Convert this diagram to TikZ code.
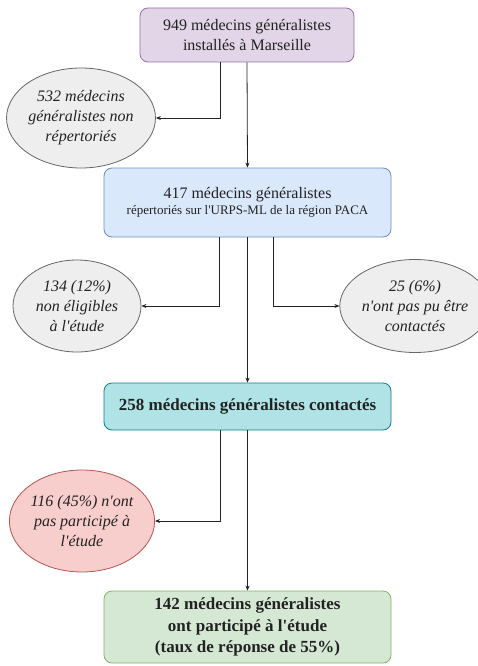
\documentclass[tikz,border=0pt]{standalone}
\usepackage{fontspec}
\setmainfont{Liberation Serif}[Ligatures=TeXOff]
\usetikzlibrary{shapes.geometric,arrows.meta}
\definecolor{purF}{HTML}{E1D5E7}\definecolor{purD}{HTML}{9673A6}
\definecolor{bluF}{HTML}{DAE8FC}\definecolor{bluD}{HTML}{6C8EBF}
\definecolor{cyaF}{HTML}{B0E3E6}\definecolor{cyaD}{HTML}{0E8088}
\definecolor{grnF}{HTML}{D5E8D4}\definecolor{grnD}{HTML}{82B366}
\definecolor{gryF}{HTML}{EEEEEE}\definecolor{gryD}{HTML}{666666}
\definecolor{redF}{HTML}{F8CECC}\definecolor{redD}{HTML}{B85450}
\definecolor{txt}{HTML}{222222}
\tikzset{
  stepbox/.style={rectangle, rounded corners=8pt, line width=0.8pt, align=center, text=txt, inner sep=2pt},
  excl/.style={ellipse, line width=0.8pt, draw=gryD, fill=gryF, align=center, text=txt, inner sep=0pt,
    font=\fontsize{16}{20}\selectfont\itshape},
  arr/.style={draw=txt, line width=0.8pt, -{Stealth[length=5pt,width=4pt]}}
}
\begin{document}
\begin{tikzpicture}[x=1pt,y=-1pt]
\useasboundingbox[fill=white] (0,0) rectangle (477,666);
\node[stepbox, fill=purF, draw=purD, minimum width=214pt, minimum height=54pt,
  font=\fontsize{16}{20}\selectfont] (n1) at (247,35) {949 médecins généralistes\\installés à Marseille};
\node[stepbox, fill=bluF, draw=bluD, minimum width=287pt, minimum height=69pt] (n2) at (247.5,202.5)
  {{\fontsize{16}{20}\selectfont 417 médecins généralistes}\\[2pt]{\fontsize{13}{16}\selectfont répertoriés sur l'URPS-ML de la région PACA}};
\node[stepbox, fill=cyaF, draw=cyaD, minimum width=287pt, minimum height=47pt,
  font=\fontsize{17}{21}\selectfont\bfseries] (n3) at (247.5,406.5) {258 médecins généralistes contactés};
\node[stepbox, fill=grnF, draw=grnD, minimum width=287pt, minimum height=72pt,
  font=\fontsize{17}{21.5}\selectfont\bfseries] (n4) at (247.5,627) {142 médecins généralistes\\ont participé à l'étude\\(taux de réponse de 55\%)};
\node[excl, minimum width=130pt, minimum height=100pt] (e1) at (81,118) {532 médecins\\généralistes non\\répertoriés};
\node[excl, minimum width=128pt, minimum height=92pt] (e2) at (77,306) {134 (12\%)\\non éligibles\\à l'étude};
\node[excl, minimum width=120pt, minimum height=93pt] (e3) at (415,306) {25 (6\%)\\n'ont pas pu être\\contactés};
\node[excl, draw=redD, fill=redF, minimum width=128pt, minimum height=102pt] (e4) at (82,521) {116 (45\%) n'ont\\pas participé à\\l'étude};
\draw[arr] (n1.south) -- (n2.north);
\draw[arr] (n1.south -| 220,0) |- (e1.east);
\draw[arr] (n2.south) -- (n3.north);
\draw[arr] (n2.south -| 219,0) |- (e2.east);
\draw[arr] (n2.south -| 273,0) |- (e3.west);
\draw[arr] (n3.south) -- (n4.north);
\draw[arr] (n3.south -| 220,0) |- (e4.east);
\end{tikzpicture}
\end{document}
